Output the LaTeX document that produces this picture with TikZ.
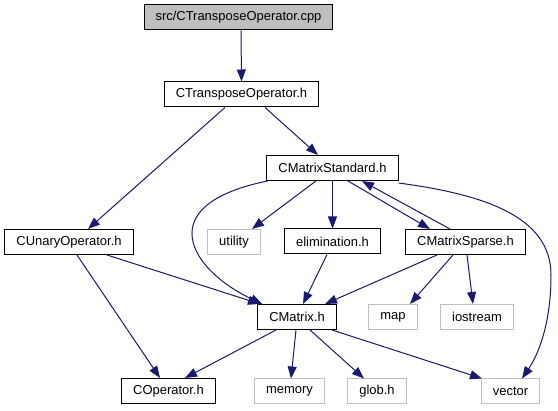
\documentclass[tikz,border=0pt]{standalone}
\usepackage{fontspec}
\setmainfont{Liberation Sans}
\usetikzlibrary{arrows.meta}
\definecolor{edgeblue}{HTML}{191970}
\definecolor{boxgray}{HTML}{BFBFBF}

\begin{document}
\begin{tikzpicture}[x=1pt,y=-1pt,font=\fontsize{12.96}{15}\selectfont,
  filebox/.style={draw=black,fill=white,line width=1pt,inner xsep=11.5pt,inner ysep=0pt,minimum height=25pt},
  sysbox/.style={filebox,draw=boxgray},
  srcbox/.style={filebox,fill=boxgray},
  dep/.style={edgeblue,line width=1pt,-{Triangle[length=12pt,width=9pt]}}]
\path[use as bounding box,fill=white] (0,0) rectangle (558,411);
% files of the project
\node[srcbox] (cpp) at (238.5,17.5) {src/CTransposeOperator.cpp};
\foreach \n/\x/\y/\s/\t in %
{cto/241.5/94.5/filebox/CTransposeOperator.h,
 cms/332.5/168/filebox/CMatrixStandard.h,
 cuo/69/242/filebox/CUnaryOperator.h,
 utility/234/242/sysbox/utility,
 elim/332.5/241.5/filebox/elimination.h,
 cmsp/465.5/242/filebox/CMatrixSparse.h,
 cmatrix/297/317/filebox/CMatrix.h,
 map/393/317/sysbox/map,
 iostream/477/317/sysbox/iostream,
 coper/168.5/391/filebox/COperator.h,
 memory/289.5/391.5/sysbox/memory,
 glob/377/391.5/sysbox/glob.h,
 vector/510.5/391.5/sysbox/vector} {
   \node[\s] (\n) at (\x,\y) {\t};
}
% includes
\foreach \a/\da/\b/\db in %
{cpp/2.5/cto/0, cto/-16.5/cuo/19, cto/23.5/cms/-14.5,
 cms/-16.5/utility/18, cms/0/elim/0, cms/15.5/cmsp/-35.5,
 cuo/38/cmatrix/-37, cuo/8/coper/-8.5, elim/-5.5/cmatrix/6,
 cmsp/-28.5/cmatrix/28, cmsp/-12.5/map/17, cmsp/1.5/iostream/-4,
 cmatrix/-21/coper/16.5, cmatrix/-1/memory/1.5, cmatrix/13/glob/-13,
 cmatrix/35/vector/-28.5} {
   \draw[dep] ([xshift=\da pt]\a.south) -- ([xshift=\db pt]\b.north);
}
\draw[dep] ([xshift=-15.5pt]cmsp.north) -- ([xshift=29.5pt]cms.south);
\draw[dep] ([xshift=1pt]cms.south west) .. controls +(-118,24) and +(-72,-34) .. ([xshift=5pt]cmatrix.north west);
\draw[dep] ([yshift=-2pt]cms.south east) .. controls +(82,11) and +(0,-60) .. (551,275)
   .. controls +(0,55) and +(13,-19) .. ([xshift=11.5pt]vector.north);
\end{tikzpicture}
\end{document}
